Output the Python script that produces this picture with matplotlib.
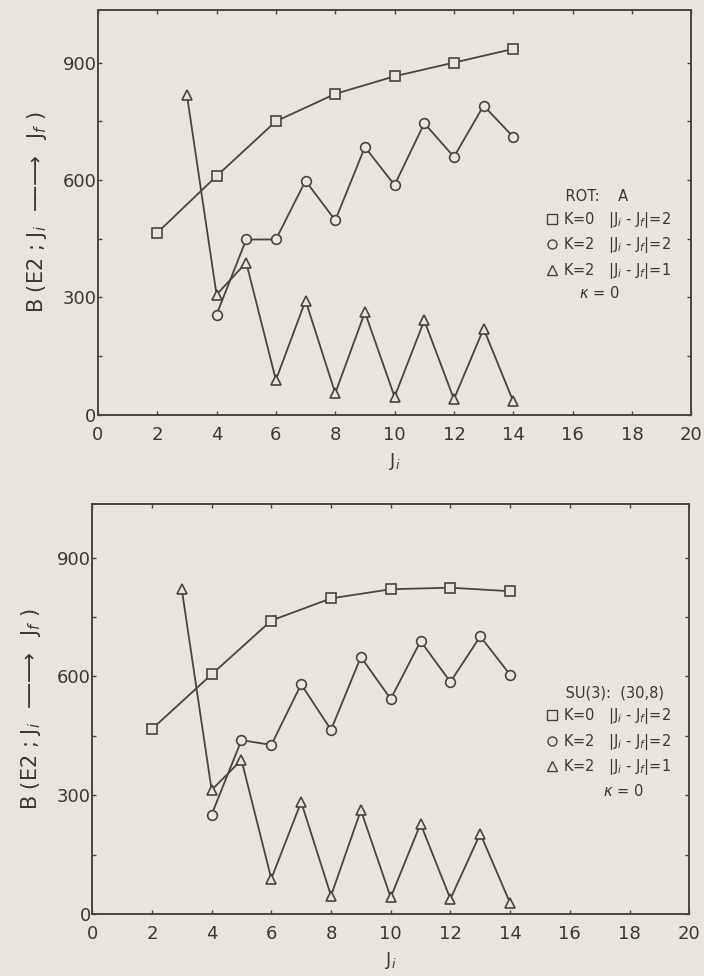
import matplotlib
matplotlib.use('Agg')
import matplotlib.pyplot as plt
from matplotlib.lines import Line2D

paper = '#e8e5dc'
ink = '#47453f'
txt = '#3a3833'

# top panel: rotor model A
rot_k0_j = [2, 4, 6, 8, 10, 12, 14]
rot_k0_b = [465, 610, 750, 820, 865, 900, 935]
rot_k2_j = [4, 5, 6, 7, 8, 9, 10, 11, 12, 13, 14]
rot_k2_b = [256, 448, 448, 598, 497, 684, 587, 745, 659, 790, 710]
rot_k2d1_j = [3, 4, 5, 6, 7, 8, 9, 10, 11, 12, 13, 14]
rot_k2d1_b = [818, 307, 389, 89, 292, 55, 262, 46, 241, 40, 220, 34]

# bottom panel: SU(3) (30,8)
su3_k0_j = [2, 4, 6, 8, 10, 12, 14]
su3_k0_b = [467, 605, 741, 797, 820, 824, 815]
su3_k2_j = [4, 5, 6, 7, 8, 9, 10, 11, 12, 13, 14]
su3_k2_b = [251, 439, 427, 580, 465, 649, 543, 689, 586, 701, 604]
su3_k2d1_j = [3, 4, 5, 6, 7, 8, 9, 10, 11, 12, 13, 14]
su3_k2d1_b = [820, 313, 389, 89, 283, 46, 262, 42, 228, 38, 203, 28]

x_ticks = [0, 2, 4, 6, 8, 10, 12, 14, 16, 18, 20]
y_ticks = [0, 300, 600, 900]

legend_rows = [r'K=0   |J$_i$ - J$_f$|=2', r'K=2   |J$_i$ - J$_f$|=2', r'K=2   |J$_i$ - J$_f$|=1']


def draw_panel(ax, series, title, leg_x, kappa_x):
    mk = dict(color=ink, lw=1.3, markersize=7, markerfacecolor=paper,
              markeredgecolor=ink, markeredgewidth=1.2)
    for (j, b), m in zip(series, ['s', 'o', '^']):
        ax.plot(j, b, marker=m, **mk)

    ax.set_xlim(0, 20)
    ax.set_ylim(0, 1035)
    ax.set_facecolor(paper)
    ax.set_xticks(x_ticks)
    ax.set_yticks(y_ticks)
    ax.set_yticks([150, 450, 750], minor=True)
    ax.tick_params(direction='in', length=3, width=1, colors=ink,
                   labelsize=13, top=True, right=True, which='both')
    ax.tick_params(axis='x', pad=8)
    ax.tick_params(axis='y', pad=1)
    for s in ax.spines.values():
        s.set_color(ink)
        s.set_linewidth(1.4)
    for t in ax.get_xticklabels() + ax.get_yticklabels():
        t.set_color(txt)
    ax.set_xlabel(r'J$_i$', fontsize=13, color=txt, labelpad=5)
    ax.set_ylabel(r'B (E2 ; J$_i$  $-\!\!\!-\!\!\!\longrightarrow$  J$_f$ )',
                  fontsize=15, color=txt, labelpad=10)

    handles = [Line2D([], [], ls='none', marker=m, markersize=6.5,
                      markerfacecolor=paper, markeredgecolor=ink)
               for m in ['s', 'o', '^']]
    leg = ax.legend(handles, legend_rows, title=title, frameon=False,
                    loc='upper left', bbox_to_anchor=(leg_x, 0.575),
                    fontsize=10.5, title_fontsize=10.5, handlelength=0.6,
                    handletextpad=0.5, labelspacing=0.38, borderpad=0)
    leg._legend_box.align = 'left'
    for t in leg.get_texts():
        t.set_color(txt)
    leg.get_title().set_color(txt)
    ax.text(kappa_x, 0.30, r'$\kappa$ = 0', transform=ax.transAxes,
            fontsize=10.5, color=txt, ha='center', va='center')


fig = plt.figure(figsize=(7.04, 9.76), dpi=100, facecolor=paper)
ax1 = fig.add_axes([0.139, 0.575, 0.843, 0.415])
ax2 = fig.add_axes([0.131, 0.0635, 0.848, 0.42])

draw_panel(ax1, [(rot_k0_j, rot_k0_b), (rot_k2_j, rot_k2_b), (rot_k2d1_j, rot_k2d1_b)],
           '    ROT:    A', 0.745, 0.845)
draw_panel(ax2, [(su3_k0_j, su3_k0_b), (su3_k2_j, su3_k2_b), (su3_k2d1_j, su3_k2d1_b)],
           '    SU(3):  (30,8)', 0.75, 0.89)

fig.savefig('out.png', dpi=100, facecolor=paper)
